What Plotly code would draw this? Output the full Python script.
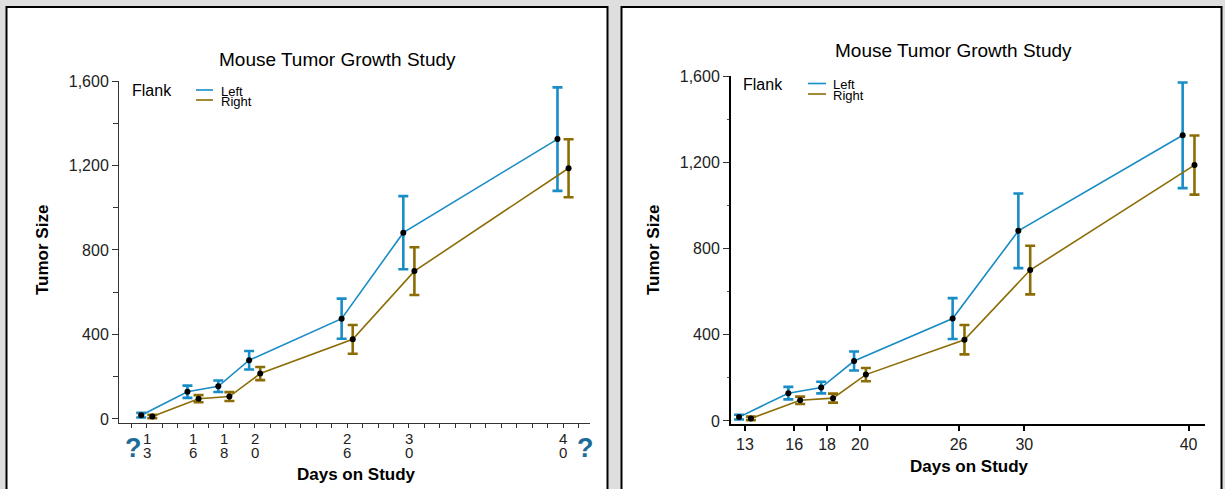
import plotly.graph_objects as go

# ---------------- data ----------------
days = [13, 16, 18, 20, 26, 30, 40]
flanks = ["Left", "Right"]
left_mean = [18, 129, 155, 278, 475, 882, 1325]
left_err = [11, 29, 27, 44, 95, 173, 245]
right_mean = [12, 96, 106, 215, 377, 700, 1187]
right_err = [8, 17, 21, 31, 68, 113, 137]
y_ticks = [0, 400, 800, 1200, 1600]
y_minor = [200, 600, 1000, 1400]
x_labels = [str(d) for d in days]

# ---------------- style ----------------
W, H = 1225, 489
FONT = "Liberation Sans, Arial, sans-serif"
BLUE = "#1a8cc6"
GOLD = "#8c6d05"
QCOL = "#1d6b98"
DODGE = 0.36

def px(x):
    return x / W

def py(y):
    return 1 - y / H

series = [
    (flanks[0], left_mean, left_err, BLUE, -DODGE),
    (flanks[1], right_mean, right_err, GOLD, DODGE),
]

fig = go.Figure()
for xa, ya in (("x", "y"), ("x2", "y2")):
    for name, mean, err, col, off in series:
        fig.add_trace(go.Scatter(
            x=[d + off for d in days], y=mean, name=name, xaxis=xa, yaxis=ya,
            mode="lines+markers",
            line=dict(color=col, width=1.6),
            marker=dict(color="black", size=6),
            error_y=dict(type="data", array=err, visible=True, color=col,
                         thickness=2.6, width=5),
            showlegend=False,
        ))

tickfont = dict(family=FONT, size=16, color="#222")

fig.update_layout(
    width=W, height=H,
    margin=dict(l=0, r=0, t=0, b=0, pad=0, autoexpand=False),
    paper_bgcolor="#dedede",
    plot_bgcolor="rgba(0,0,0,0)",
    font=dict(family=FONT, color="black"),
    showlegend=False,
    xaxis=dict(
        domain=[px(119), px(590)], range=[11.2, 41.75], anchor="y",
        showline=True, linecolor="#333", linewidth=1,
        ticks="outside", ticklen=4, tickcolor="#333", tickwidth=1,
        tickvals=days, ticktext=["" for _ in days], automargin=False,
        minor=dict(tickvals=list(range(12, 42)), ticks="outside", ticklen=4,
                   tickcolor="#333", tickwidth=1, showgrid=False),
        showgrid=False, zeroline=False,
    ),
    yaxis=dict(
        domain=[py(423), py(81)], range=[-19, 1600], anchor="x",
        showline=True, linecolor="#333", linewidth=1, automargin=False,
        ticks="outside", ticklen=6, tickcolor="#333", tickwidth=1,
        tickvals=y_ticks, tickformat=",", tickfont=tickfont,
        minor=dict(tickvals=y_minor, ticks="outside", ticklen=5,
                   tickcolor="#333", tickwidth=1, showgrid=False),
        showgrid=False, zeroline=False,
    ),
    xaxis2=dict(
        domain=[px(731), px(1205)], range=[12.15, 41.0], anchor="y2",
        showline=True, linecolor="black", linewidth=2, automargin=False,
        ticks="outside", ticklen=5, tickcolor="black", tickwidth=2,
        tickvals=days, ticktext=x_labels, tickfont=tickfont,
        showgrid=False, zeroline=False,
    ),
    yaxis2=dict(
        domain=[py(424), py(76)], range=[-14, 1600], anchor="x2",
        showline=True, linecolor="black", linewidth=2, automargin=False,
        ticks="outside", ticklen=6, tickcolor="#333", tickwidth=1,
        tickvals=y_ticks, tickformat=",", tickfont=tickfont,
        minor=dict(tickvals=y_minor, ticks="outside", ticklen=2,
                   tickcolor="#555", tickwidth=1, showgrid=False),
        showgrid=False, zeroline=False,
    ),
)

shapes = []
# panel frames
for x0, x1 in ((6.5, 607.5), (621.5, 1221.5)):
    shapes.append(dict(type="rect", xref="paper", yref="paper",
                       x0=px(x0), x1=px(x1), y0=py(500), y1=py(7),
                       fillcolor="white", line=dict(color="black", width=2),
                       layer="below"))

annotations = []

# stacked tick digits for the narrow left panel, placed on the x scale
for d, lab in zip(days, x_labels):
    for row, ch in enumerate(lab):
        annotations.append(dict(text=ch, x=d, xref="x", y=py(438 + 14 * row),
                                yref="paper", xanchor="center", yanchor="middle",
                                showarrow=False,
                                font=dict(family=FONT, size=15, color="#222")))

def legend(x_flank, y_flank, x_line0, x_line1, y_l, y_r, x_text):
    annotations.append(dict(text="Flank", x=px(x_flank), y=py(y_flank),
                            xref="paper", yref="paper", xanchor="left",
                            yanchor="middle", showarrow=False,
                            font=dict(family=FONT, size=16, color="black")))
    for name, yy, col in ((flanks[0], y_l, BLUE), (flanks[1], y_r, GOLD)):
        shapes.append(dict(type="line", xref="paper", yref="paper",
                           x0=px(x_line0), x1=px(x_line1), y0=py(yy), y1=py(yy),
                           line=dict(color=col, width=1.6)))
        annotations.append(dict(text=name, x=px(x_text), y=py(yy + 1),
                                xref="paper", yref="paper", xanchor="left",
                                yanchor="middle", showarrow=False,
                                font=dict(family=FONT, size=13, color="black")))

legend(130, 90, 196, 213, 90, 100, 219)
legend(741, 84, 808, 826, 83.5, 94, 831)

def text(t, x, y, size, bold=False, angle=0, color="black"):
    annotations.append(dict(text=f"<b>{t}</b>" if bold else t,
                            x=px(x), y=py(y), xref="paper", yref="paper",
                            xanchor="center", yanchor="middle", showarrow=False,
                            textangle=angle,
                            font=dict(family=FONT, size=size, color=color)))

text("Mouse Tumor Growth Study", 337, 59, 19)
text("Mouse Tumor Growth Study", 953, 50, 19)
text("Tumor Size", 42, 250, 17, bold=True, angle=-90)
text("Tumor Size", 653, 250, 17, bold=True, angle=-90)
text("Days on Study", 356, 474, 17, bold=True)
text("Days on Study", 970, 466, 17, bold=True)
text("?", 133, 448, 27, bold=True, color=QCOL)
text("?", 585, 448, 27, bold=True, color=QCOL)

fig.update_layout(shapes=shapes, annotations=annotations)

post = """
document.documentElement.style.margin='0';
document.body.style.margin='0';
document.body.style.overflow='hidden';
"""
fig.write_html("out.html", post_script=post, config={"displayModeBar": False})
